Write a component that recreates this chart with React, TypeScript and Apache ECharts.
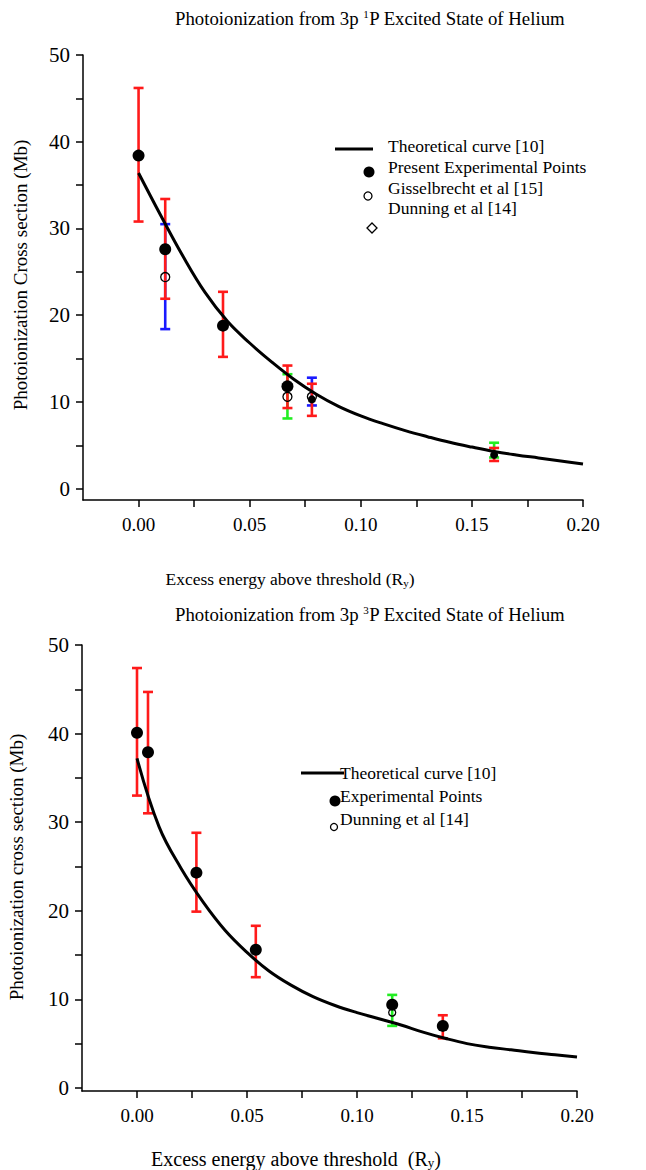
import React, { useEffect, useRef } from "react";
import * as echarts from "echarts";

const FONT = '"Liberation Serif", "Times New Roman", serif';

// Theoretical curves
const curveX = [0, 0.01, 0.02, 0.03, 0.04, 0.05, 0.06, 0.07, 0.08, 0.09, 0.1, 0.11, 0.12, 0.13, 0.14, 0.15, 0.16, 0.17, 0.18, 0.19, 0.2];
const curveTopY = [36.4, 31.5, 26.8, 22.6, 19.3, 16.8, 14.6, 12.6, 10.9, 9.5, 8.4, 7.5, 6.7, 6.0, 5.35, 4.8, 4.3, 3.9, 3.55, 3.2, 2.85];
const curveBotY = [37.2, 29.5, 24.8, 21.0, 17.8, 15.3, 13.2, 11.6, 10.3, 9.3, 8.5, 7.8, 7.1, 6.3, 5.6, 5.0, 4.6, 4.3, 4.0, 3.75, 3.5];

// Top chart (3p 1P)
const presentX = [0, 0.012, 0.038, 0.067];
const presentY = [38.4, 27.6, 18.8, 11.8];
const presentSmallX = [0.078, 0.16];
const presentSmallY = [10.3, 3.9];
const gisselX = [0.012, 0.067, 0.078];
const gisselY = [24.4, 10.6, 10.6];
const redTopX = [0, 0.012, 0.038, 0.067, 0.078, 0.16];
const redTopLow = [30.8, 21.9, 15.2, 9.3, 8.4, 3.2];
const redTopHigh = [46.2, 33.4, 22.7, 14.2, 12.1, 4.7];
const blueTopX = [0.012, 0.078];
const blueTopLow = [18.4, 9.6];
const blueTopHigh = [30.5, 12.8];
const greenTopX = [0.067, 0.16];
const greenTopLow = [8.1, 3.6];
const greenTopHigh = [13.2, 5.3];

// Bottom chart (3p 3P)
const expX = [0, 0.005, 0.027, 0.054, 0.116, 0.139];
const expY = [40.1, 37.9, 24.3, 15.6, 9.4, 7.0];
const dunX = [0.116];
const dunY = [8.5];
const redBotX = [0, 0.005, 0.027, 0.054, 0.139];
const redBotLow = [33.0, 31.0, 19.9, 12.5, 5.6];
const redBotHigh = [47.4, 44.7, 28.8, 18.3, 8.2];
const greenBotX = [0.116];
const greenBotLow = [7.0];
const greenBotHigh = [10.5];

// Ticks
const xTickValues = [0, 0.025, 0.05, 0.075, 0.1, 0.125, 0.15, 0.175, 0.2];
const xLabelValues = [0, 0.05, 0.1, 0.15, 0.2];
const yTickValues = [0, 5, 10, 15, 20, 25, 30, 35, 40, 45, 50];
const yLabelValues = [0, 10, 20, 30, 40, 50];

const zip = (xs: number[], ...cols: number[][]) => xs.map((x, i) => [x, ...cols.map((c) => c[i])]);

function errorBars(data: number[][], color: string, idx: number) {
  return {
    type: "custom",
    xAxisIndex: idx,
    yAxisIndex: idx,
    data,
    z: 2,
    clip: false,
    encode: { x: 0, y: [1, 2] },
    renderItem: (_p: any, api: any) => {
      const x = api.value(0);
      const a = api.coord([x, api.value(2)]);
      const b = api.coord([x, api.value(1)]);
      const w = 5;
      const style = { stroke: color, lineWidth: 2.6 };
      return {
        type: "group",
        children: [
          { type: "line", shape: { x1: a[0], y1: a[1], x2: b[0], y2: b[1] }, style },
          { type: "line", shape: { x1: a[0] - w, y1: a[1], x2: a[0] + w, y2: a[1] }, style },
          { type: "line", shape: { x1: b[0] - w, y1: b[1], x2: b[0] + w, y2: b[1] }, style },
        ],
      };
    },
  };
}

function xAxis(gridIndex: number) {
  return {
    type: "value",
    gridIndex,
    min: -0.025,
    max: 0.2,
    axisLine: { show: true, onZero: false, lineStyle: { color: "#000", width: 1.5 } },
    axisTick: { show: true, inside: false, length: 7, customValues: xTickValues, lineStyle: { color: "#000", width: 1.5 } },
    axisLabel: {
      customValues: xLabelValues,
      formatter: (v: number) => v.toFixed(2),
      fontFamily: FONT,
      fontSize: 19,
      color: "#000",
      margin: 15,
    },
    splitLine: { show: false },
  };
}

function yAxis(gridIndex: number, min: number) {
  return {
    type: "value",
    gridIndex,
    min,
    max: 50,
    axisLine: { show: true, onZero: false, lineStyle: { color: "#000", width: 1.5 } },
    axisTick: { show: true, inside: false, length: 7, customValues: yTickValues, lineStyle: { color: "#000", width: 1.5 } },
    axisLabel: {
      customValues: yLabelValues,
      fontFamily: FONT,
      fontSize: 21,
      color: "#000",
      margin: 13,
    },
    splitLine: { show: false },
  };
}

const txt = (x: number, y: number, text: string, extra: any = {}) => ({
  type: "text",
  x,
  y,
  style: { text, fontFamily: FONT, fontSize: 17.5, fill: "#000", verticalAlign: "middle", align: "left", ...extra },
});

export default function App() {
  const ref = useRef<HTMLDivElement>(null);
  useEffect(() => {
    if (!ref.current) return;
    const chart = echarts.init(ref.current, null, { renderer: "svg" });
    const titleRich = {
      a: { fontFamily: FONT, fontSize: 18.8, fill: "#000" },
      sup: { fontFamily: FONT, fontSize: 11, verticalAlign: "top", fill: "#000" },
    } as any;
    const nameRich = (fs: number) =>
      ({
        a: { fontFamily: FONT, fontSize: fs },
        sub: { fontFamily: FONT, fontSize: Math.round(fs * 0.65), verticalAlign: "bottom" },
      }) as any;
    const richText = (x: number, y: number, text: string, rich: any) => ({
      type: "text",
      x,
      y,
      style: { text, rich, fill: "#000", align: "center", verticalAlign: "middle", fontFamily: FONT },
    });
    const vText = (x: number, y: number, text: string, fs: number) => ({
      type: "text",
      x,
      y,
      rotation: Math.PI / 2,
      style: { text, fontFamily: FONT, fontSize: fs, fill: "#000", align: "center", verticalAlign: "middle" },
    });
    chart.setOption({
      animation: false,
      backgroundColor: "#fff",
      grid: [
        { left: 83, top: 55, width: 500, height: 445 },
        { left: 82, top: 645, width: 495, height: 446 },
      ],
      xAxis: [xAxis(0), xAxis(1)],
      yAxis: [yAxis(0, -1.3), yAxis(1, -0.35)],
      graphic: [
        richText(370, 18, "{a|Photoionization from 3p }{sup|1}{a|P Excited State of Helium}", titleRich),
        richText(370, 614, "{a|Photoionization from 3p }{sup|3}{a|P Excited State of Helium}", titleRich),
        richText(290, 579, "{a|Excess energy above threshold (R}{sub|y}{a|)}", nameRich(17.5)),
        richText(296, 1159, "{a|Excess energy above threshold  (R}{sub|y}{a|)}", nameRich(20)),
        vText(20, 275, "Photoionization Cross section (Mb)", 19),
        vText(16, 867, "Photoionization cross section (Mb)", 19),
        // top legend
        { type: "line", shape: { x1: 335, y1: 149, x2: 373, y2: 149 }, style: { stroke: "#000", lineWidth: 3 } },
        txt(388, 146, "Theoretical curve [10]"),
        { type: "circle", shape: { cx: 369, cy: 172, r: 5.5 }, style: { fill: "#000" } },
        txt(388, 167, "Present Experimental Points"),
        { type: "circle", shape: { cx: 368, cy: 196, r: 4 }, style: { fill: "none", stroke: "#000", lineWidth: 1.3 } },
        txt(388, 188, "Gisselbrecht et al [15]"),
        { type: "polygon", shape: { points: [[372, 223], [377, 228], [372, 233], [367, 228]] }, style: { fill: "none", stroke: "#000", lineWidth: 1.3 } },
        txt(388, 208, "Dunning et al [14]"),
        // bottom legend
        { type: "line", shape: { x1: 301, y1: 773, x2: 344, y2: 773 }, style: { stroke: "#000", lineWidth: 3 } },
        txt(340, 773, "Theoretical curve [10]"),
        { type: "circle", shape: { cx: 335, cy: 801, r: 5.5 }, style: { fill: "#000" } },
        txt(340, 796, "Experimental Points"),
        { type: "circle", shape: { cx: 334, cy: 827, r: 3.5 }, style: { fill: "none", stroke: "#000", lineWidth: 1.3 } },
        txt(340, 819, "Dunning et al [14]"),
      ],
      series: [
        errorBars(zip(blueTopX, blueTopLow, blueTopHigh), "#1a1aff", 0),
        errorBars(zip(greenTopX, greenTopLow, greenTopHigh), "#22ee22", 0),
        errorBars(zip(redTopX, redTopLow, redTopHigh), "#ff1a1a", 0),
        {
          type: "line",
          xAxisIndex: 0,
          yAxisIndex: 0,
          data: zip(curveX, curveTopY),
          smooth: 0.4,
          symbol: "none",
          lineStyle: { color: "#000", width: 3 },
          z: 3,
        },
        {
          type: "scatter",
          xAxisIndex: 0,
          yAxisIndex: 0,
          data: zip(gisselX, gisselY),
          symbol: "circle",
          symbolSize: 9,
          itemStyle: { color: "rgba(0,0,0,0)", borderColor: "#000", borderWidth: 1.3, opacity: 1 },
          z: 4,
        },
        {
          type: "scatter",
          xAxisIndex: 0,
          yAxisIndex: 0,
          data: zip(presentX, presentY),
          symbol: "circle",
          symbolSize: 12,
          itemStyle: { color: "#000", opacity: 1 },
          z: 5,
        },
        {
          type: "scatter",
          xAxisIndex: 0,
          yAxisIndex: 0,
          data: zip(presentSmallX, presentSmallY),
          symbol: "circle",
          symbolSize: 8,
          itemStyle: { color: "#000", opacity: 1 },
          z: 5,
        },
        errorBars(zip(greenBotX, greenBotLow, greenBotHigh), "#22ee22", 1),
        errorBars(zip(redBotX, redBotLow, redBotHigh), "#ff1a1a", 1),
        {
          type: "line",
          xAxisIndex: 1,
          yAxisIndex: 1,
          data: zip(curveX, curveBotY),
          smooth: 0.4,
          symbol: "none",
          lineStyle: { color: "#000", width: 3 },
          z: 3,
        },
        {
          type: "scatter",
          xAxisIndex: 1,
          yAxisIndex: 1,
          data: zip(dunX, dunY),
          symbol: "circle",
          symbolSize: 7,
          itemStyle: { color: "rgba(0,0,0,0)", borderColor: "#000", borderWidth: 1.3, opacity: 1 },
          z: 4,
        },
        {
          type: "scatter",
          xAxisIndex: 1,
          yAxisIndex: 1,
          data: zip(expX, expY),
          symbol: "circle",
          symbolSize: 12,
          itemStyle: { color: "#000", opacity: 1 },
          z: 5,
        },
      ],
    });
    return () => chart.dispose();
  }, []);
  return (
    <div
      ref={ref}
      style={{ position: "absolute", left: 0, top: 0, width: 646, height: 1170, background: "#fff" }}
    />
  );
}
